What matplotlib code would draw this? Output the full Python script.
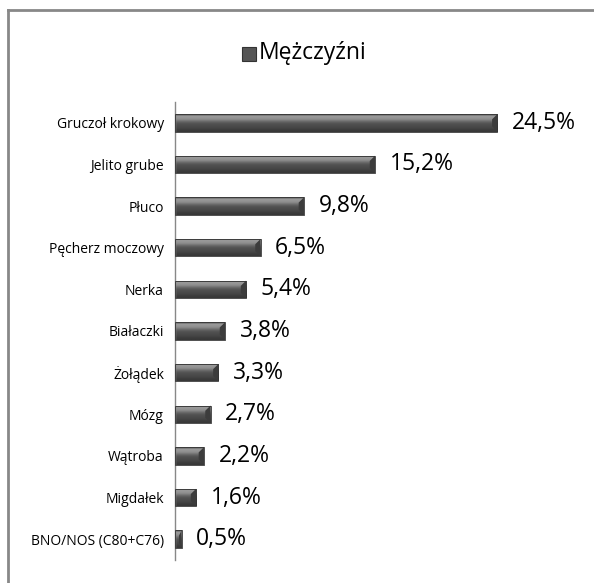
import matplotlib.pyplot as plt
import numpy as np
from matplotlib.lines import Line2D
from matplotlib.patches import Rectangle, Polygon

categories = ["Gruczoł krokowy", "Jelito grube", "Płuco", "Pęcherz moczowy", "Nerka",
              "Białaczki", "Żołądek", "Mózg", "Wątroba", "Migdałek", "BNO/NOS (C80+C76)"]
values = [24.5, 15.2, 9.8, 6.5, 5.4, 3.8, 3.3, 2.7, 2.2, 1.6, 0.5]
labels = ["24,5%", "15,2%", "9,8%", "6,5%", "5,4%", "3,8%", "3,3%", "2,7%", "2,2%", "1,6%", "0,5%"]
series_name = "Mężczyźni"

plt.rcParams['font.family'] = ['Open Sans', 'DejaVu Sans']

fig = plt.figure(figsize=(5.94, 5.83), dpi=100)
ax = fig.add_axes([175/594, 1-560/583, (575-175)/594, 458/583])

y = np.arange(len(categories))
bars = ax.barh(y, values, height=0.42, color="#505050", edgecolor="none")

# bevelled look: vertical gradient clipped to each bar
grad = np.array([0.42, 0.60, 0.58, 0.52, 0.42, 0.34, 0.31, 0.29, 0.27, 0.24, 0.22]).reshape(-1, 1)
for b in bars:
    x0, y0, w, h = b.get_x(), b.get_y(), b.get_width(), b.get_height()
    # y axis is inverted: y0 is the visual top
    im = ax.imshow(grad, cmap="gray", vmin=0, vmax=1, aspect="auto", origin="upper",
                   extent=[x0, x0 + w, y0 + h, y0], interpolation="bilinear", zorder=2)
    im.set_clip_path(b)
    d = min(0.4, w * 0.4)
    ax.add_patch(Polygon([[x0 + w, y0], [x0 + w - d, y0 + h*0.3], [x0 + w - d, y0 + h*0.7],
                          [x0 + w, y0 + h]], closed=True, facecolor="#3c3c3c",
                         edgecolor="none", zorder=3))
    ax.add_patch(Rectangle((x0, y0), w, h, facecolor="none", edgecolor="#333333", lw=0.6, zorder=4))

for yi, v, lab in zip(y, values, labels):
    ax.text(v + 1.1, yi, lab, va="center", ha="left", fontsize=16.5, color="black")

ax.set_xlim(0, 30.4)
ax.set_ylim(len(categories) - 0.5, -0.5)
ax.set_yticks(y)
ax.set_yticklabels(categories, fontsize=10)
ax.tick_params(axis="y", length=0, pad=8)
ax.set_xticks([])
for s in ["top", "right", "bottom"]:
    ax.spines[s].set_visible(False)
ax.spines["left"].set_color("#888888")
ax.spines["left"].set_linewidth(1)

# legend
fig.patches.append(Rectangle((242/594, 1-61/583), 14/594, 14/583, transform=fig.transFigure,
                             facecolor="#555555", edgecolor="#333333", lw=0.8))
fig.text(259/594, 1-53/583, series_name, fontsize=16.5, va="center", ha="left")

# outer frame (top and left only)
fig.lines.append(Line2D([8/594, 1], [1-10/583, 1-10/583], transform=fig.transFigure, color="#888888", lw=2))
fig.lines.append(Line2D([8/594, 8/594], [0, 1-10/583], transform=fig.transFigure, color="#888888", lw=2))

fig.savefig("out.png", dpi=100)
